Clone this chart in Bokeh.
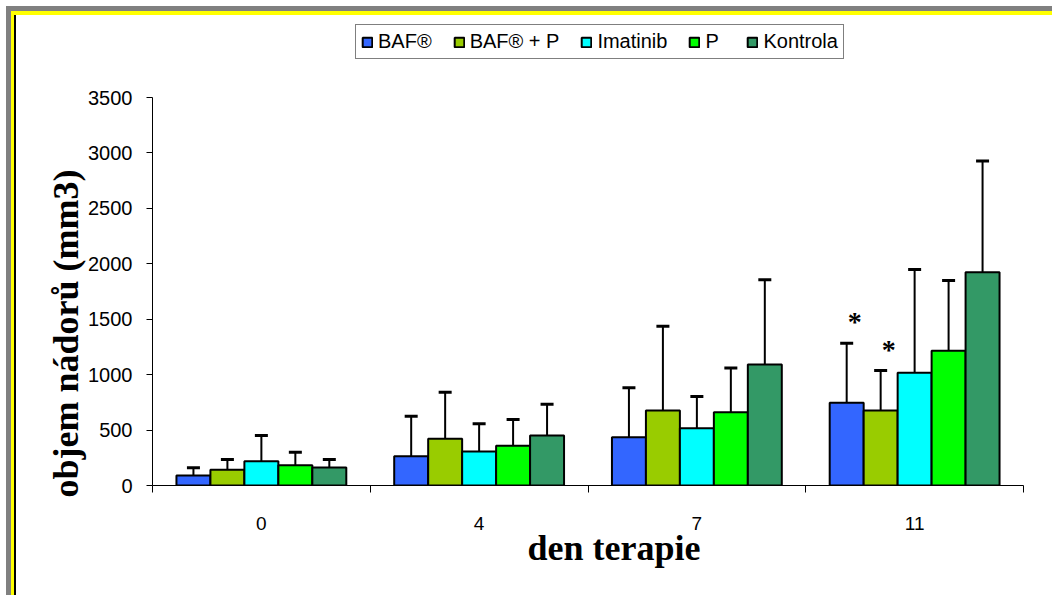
from bokeh.plotting import figure
from bokeh.models import (ColumnDataSource, Range1d, FixedTicker, Legend, LegendItem,
                          Whisker, TeeHead, Title, LabelSet)
from bokeh.core.properties import value
from bokeh.embed import file_html
from bokeh.resources import INLINE

# ---- data ----
days = ["0", "4", "7", "11"]
series = ["BAF®", "BAF® + P", "Imatinib", "P", "Kontrola"]
colors = ["#3366FF", "#99CC00", "#00FFFF", "#00FF00", "#339966"]

baf = [90, 264, 435, 746]
baf_p = [141, 421, 676, 676]
imatinib = [219, 307, 517, 1016]
p_vals = [183, 358, 661, 1215]
kontrola = [162, 451, 1091, 1923]

baf_err = [70, 361, 446, 537]
baf_p_err = [93, 420, 761, 361]
imatinib_err = [232, 249, 286, 932]
p_err = [117, 237, 400, 634]
kontrola_err = [72, 282, 766, 1005]

# significance marks (day 11)
baf_sig = ["", "", "", "*"]
baf_p_sig = ["", "", "", "*"]
no_sig = ["", "", "", ""]

y_ticks = [0, 500, 1000, 1500, 2000, 2500, 3000, 3500]
y_max = 3500

means = [baf, baf_p, imatinib, p_vals, kontrola]
errs = [baf_err, baf_p_err, imatinib_err, p_err, kontrola_err]
sigs = [baf_sig, baf_p_sig, no_sig, no_sig, no_sig]

W, H = 1052, 595
FRAME_TOP, AXIS_TOP, FRAME_BOTTOM = 20, 97, 485
# extend the frame above the axis top so the legend sits inside the frame
y_end = y_max * (FRAME_BOTTOM - FRAME_TOP) / (FRAME_BOTTOM - AXIS_TOP)

p = figure(width=W, height=H, output_backend="svg", toolbar_location=None, title=None,
           x_range=Range1d(0, len(days)), y_range=Range1d(0, y_end),
           min_border_left=152, min_border_right=29, min_border_top=FRAME_TOP,
           min_border_bottom=H - FRAME_BOTTOM)
p.background_fill_color = "white"
p.border_fill_color = None
p.outline_line_color = None
p.xgrid.visible = False
p.ygrid.visible = False

# decorative page frame (gray / yellow / black) drawn behind the transparent canvas
p.styles = {
    "background-color": "white",
    "background-image": ("linear-gradient(#000000,#000000), "
                         "linear-gradient(#808080,#808080), linear-gradient(#808080,#808080), "
                         "linear-gradient(#FFFF00,#FFFF00), linear-gradient(#FFFF00,#FFFF00)"),
    "background-size": "2px 580px, 1046px 5px, 5px 589px, 1041px 4px, 4px 584px",
    "background-position": "14px 15px, 6px 6px, 6px 6px, 11px 11px, 11px 11px",
    "background-repeat": "no-repeat",
}

bar_w = 0.156
offsets = [(j - 2) * bar_w for j in range(len(series))]

renderers = []
for j, name in enumerate(series):
    xs = [i + 0.5 + offsets[j] for i in range(len(days))]
    upper = [m + e for m, e in zip(means[j], errs[j])]
    src = ColumnDataSource(dict(x=xs, top=means[j], upper=upper, sig=sigs[j]))
    r = p.vbar(x="x", top="top", width=bar_w, source=src, fill_color=colors[j],
               line_color="black", line_width=2)
    renderers.append((name, r))
    w = Whisker(base="x", lower="top", upper="upper", source=src, dimension="height",
                line_color="black", line_width=2,
                upper_head=TeeHead(size=13, line_width=3, line_color="black"),
                lower_head=None)
    p.add_layout(w)
    ls = LabelSet(x="x", y="upper", text="sig", source=src, x_offset=8, y_offset=12,
                  text_align="center", text_baseline="alphabetic",
                  text_font=value("Liberation Serif"), text_font_style="bold",
                  text_font_size="28px", text_color="black")
    p.add_layout(ls)

# axes
xa = p.xaxis[0]
xa.ticker = FixedTicker(ticks=[i + 0.5 for i in range(len(days))],
                        minor_ticks=list(range(len(days) + 1)))
xa.major_label_overrides = {i + 0.5: d for i, d in enumerate(days)}
xa.major_tick_out = 0
xa.major_tick_in = 0
xa.minor_tick_out = 7
xa.minor_tick_in = 0
xa.minor_tick_line_color = "black"
xa.axis_line_color = "black"
xa.major_label_standoff = 24
xa.major_label_text_font = "Liberation Sans"
xa.major_label_text_font_size = "19px"
xa.major_label_text_color = "black"

ya = p.yaxis[0]
ya.ticker = FixedTicker(ticks=y_ticks)
ya.bounds = (0, y_max)
ya.major_tick_out = 6
ya.major_tick_in = 0
ya.minor_tick_out = 0
ya.minor_tick_in = 0
ya.axis_line_color = "black"
ya.major_tick_line_color = "black"
ya.major_label_standoff = 14
ya.major_label_text_font = "Liberation Sans"
ya.major_label_text_font_size = "20px"
ya.major_label_text_color = "black"

# axis titles as side-panel titles (allow an offset along the axis)
p.add_layout(Title(text="objem nádorů (mm3)", align="left", offset=-12,
                   text_font="Liberation Serif", text_font_style="bold",
                   text_font_size="36px", text_color="black", standoff=0), "left")
p.add_layout(Title(text="den terapie", align="left", offset=375,
                   text_font="Liberation Serif", text_font_style="bold",
                   text_font_size="36px", text_color="black", standoff=-14), "below")

# legend (location = bottom-left corner, in pixels from the frame's bottom-left)
legend = Legend(items=[LegendItem(label=n, renderers=[r]) for n, r in renderers],
                orientation="horizontal", location=(203, FRAME_BOTTOM - 59),
                label_text_font="Liberation Sans", label_text_font_size="20px",
                label_text_color="black", glyph_width=12, glyph_height=12,
                label_standoff=5, spacing=21, padding=5, margin=0,
                border_line_color="black", border_line_width=1,
                background_fill_color="white", background_fill_alpha=1)
p.add_layout(legend, "center")

open("out.html", "w").write(file_html(p, INLINE))
